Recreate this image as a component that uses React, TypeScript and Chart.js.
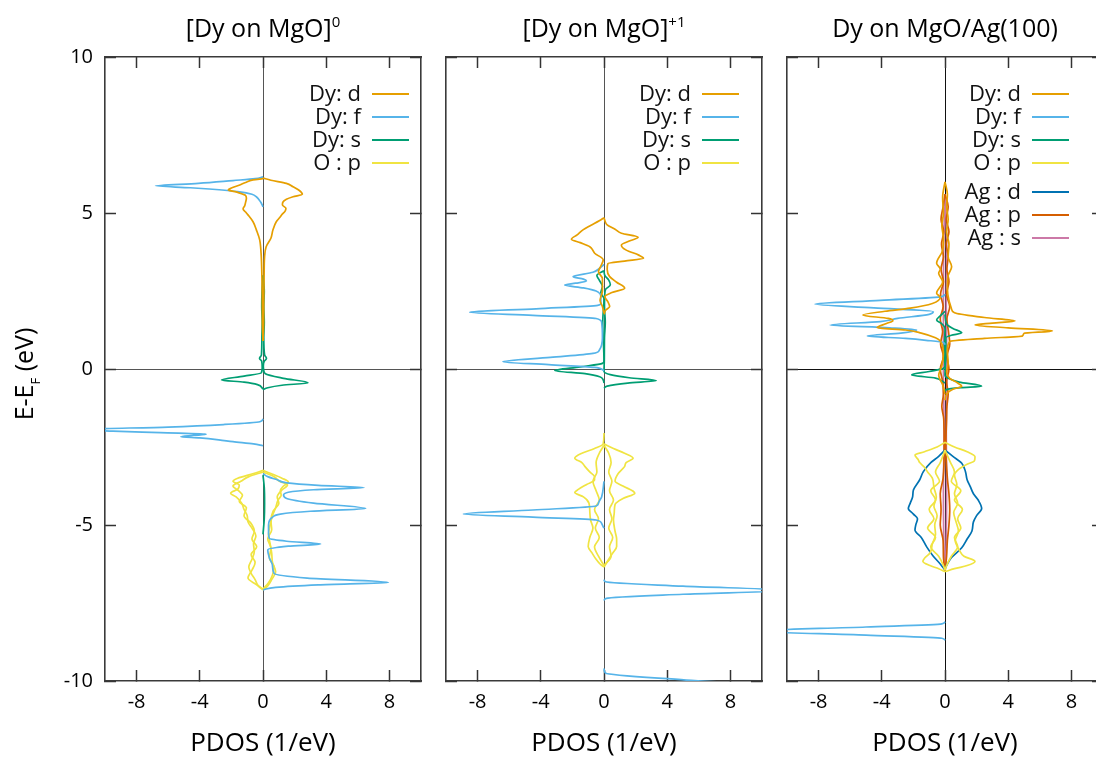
import React, { useEffect, useRef } from 'react';
import { Chart, registerables } from 'chart.js';

Chart.register(...registerables);
Chart.defaults.font.family = '"Open Sans", sans-serif';

type Pair = [number, number]; // [E - E_F (eV), PDOS (1/eV)], spin-down negative

// ---------- colours ----------
const C_DY_D = '#E69F00';
const C_DY_F = '#56B4E9';
const C_DY_S = '#009E73';
const C_O_P = '#F0E442';
const C_AG_D = '#0072B2';
const C_AG_P = '#D55E00';
const C_AG_S = '#CC79A7';

// ---------- axis ticks ----------
const X_TICKS = [-8, -4, 0, 4, 8];
const Y_TICKS = [-10, -5, 0, 5, 10];
const PDOS_MIN = -10, PDOS_MAX = 10;
const E_MIN = -10, E_MAX = 10;

// ---------- titles / labels ----------
const TITLES = ['[Dy on MgO]', '[Dy on MgO]', 'Dy on MgO/Ag(100)'];
const TITLE_SUPS = ['0', '+1', ''];
const X_LABEL = 'PDOS (1/eV)';
const LEGEND_BASE = ['Dy: d', 'Dy: f', 'Dy: s', 'O : p'];
const LEGEND_AG = ['Ag : d', 'Ag : p', 'Ag : s'];

// ================= Panel 1 : [Dy on MgO]^0 =================
const P1_DY_D_UP: Pair[] = [[6.12,0],[6.05,0.5],[5.95,1.48],[5.84,1.9],[5.72,2.3],[5.6,2.49],[5.52,1.9],[5.44,1.48],[5.34,1.25],[5.26,1.23],[5.15,1.45],[5.06,1.4],[4.95,1.2],[4.88,1.1],[4.72,0.84],[4.46,0.63],[4.19,0.5],[3.92,0.2],[3.6,0.1],[3.0,0.07],[2.2,0.05],[1.4,0.04],[0.9,0]];
const P1_DY_D_DN: Pair[] = [[6.1,0],[6.06,-0.63],[5.98,-1.1],[5.9,-1.47],[5.8,-2.0],[5.74,-2.2],[5.66,-1.6],[5.56,-1.1],[5.47,-1.05],[5.35,-1.1],[5.23,-1.16],[5.13,-1.26],[5.03,-1.1],[4.94,-0.95],[4.72,-0.63],[4.46,-0.42],[4.14,-0.21],[3.7,-0.12],[3.2,-0.08],[2.4,-0.05],[1.5,-0.04],[0.9,0]];
const P1_DY_F_DN_A: Pair[] = [[6.16,0],[6.1,-0.5],[6.04,-1.9],[5.95,-4.1],[5.87,-6.8],[5.81,-4.6],[5.77,-3.4],[5.68,-1.47],[5.6,-0.7],[5.52,-0.42],[5.35,-0.15],[5.2,0]];
const P1_DY_F_DN_B: Pair[] = [[-1.6,0],[-1.69,-0.2],[-1.78,-2.5],[-1.86,-6],[-1.94,-11.5],[-1.99,-9.5],[-2.04,-6.5],[-2.09,-3.6],[-2.13,-4.4],[-2.17,-5.2],[-2.21,-4.0],[-2.27,-2.8],[-2.33,-1.9],[-2.4,-0.6],[-2.46,0]];
const P1_DY_F_UP: Pair[] = [[-3.35,0],[-3.45,0.3],[-3.55,0.9],[-3.65,1.5],[-3.73,3.5],[-3.8,6.4],[-3.87,3.2],[-3.95,1.6],[-4.04,1.3],[-4.15,1.5],[-4.3,3.2],[-4.47,6.5],[-4.56,3.0],[-4.65,1.1],[-4.75,0.6],[-5.0,0.35],[-5.25,0.35],[-5.43,0.4],[-5.52,1.5],[-5.61,3.65],[-5.68,1.6],[-5.8,0.3],[-6.05,0.4],[-6.3,0.6],[-6.55,0.7],[-6.7,2.8],[-6.84,7.94],[-6.92,3.5],[-7.0,0.8],[-7.08,0]];
const P1_DY_S_UP: Pair[] = [[3.0,0],[2.5,0.08],[2.0,0.05],[1.5,0.08],[1.0,0.05],[0.45,0.1],[0.34,0.22],[0.25,0.08],[0.1,0.02],[-0.05,0.05],[-0.15,0.15],[-0.3,1.3],[-0.44,2.85],[-0.52,1.2],[-0.6,0.3],[-0.66,0]];
const P1_DY_S_DN: Pair[] = [[3.0,0],[2.5,-0.06],[2.0,-0.08],[1.5,-0.05],[1.0,-0.07],[0.45,-0.1],[0.34,-0.22],[0.25,-0.08],[0.05,-0.05],[-0.12,-0.1],[-0.23,-1.2],[-0.35,-2.63],[-0.42,-1.2],[-0.5,-0.35],[-0.64,0]];
const P1_DY_S_MID: Pair[] = [[-3.4,0],[-3.8,0.08],[-4.3,0.1],[-4.8,0.08],[-5.3,0]];
const P1_O_P_DN_A: Pair[] = [[-3.25,0],[-3.35,-0.6],[-3.5,-1.6],[-3.6,-1.9],[-3.72,-1.5],[-3.85,-1.6],[-3.98,-2.05],[-4.1,-1.7],[-4.3,-1.35],[-4.5,-1.2],[-4.7,-1.0],[-4.9,-0.95],[-5.1,-0.7],[-5.35,-0.45],[-5.6,-0.6],[-5.85,-0.55],[-6.1,-0.7],[-6.35,-0.9],[-6.55,-0.75],[-6.75,-0.5],[-6.95,-0.3],[-7.08,0]];
const P1_O_P_DN_B: Pair[] = [[-3.3,0],[-3.45,-0.9],[-3.6,-1.4],[-3.75,-1.9],[-3.9,-1.55],[-4.05,-1.3],[-4.25,-1.5],[-4.45,-1.05],[-4.7,-1.2],[-4.95,-0.75],[-5.2,-0.55],[-5.45,-0.7],[-5.7,-0.4],[-5.95,-0.75],[-6.2,-0.5],[-6.45,-0.7],[-6.7,-0.95],[-6.9,-0.45],[-7.05,0]];
const P1_O_P_UP_A: Pair[] = [[-3.25,0],[-3.35,0.5],[-3.5,1.2],[-3.62,1.6],[-3.75,1.3],[-3.9,1.1],[-4.05,1.15],[-4.2,0.95],[-4.45,0.8],[-4.7,0.6],[-5.0,0.45],[-5.3,0.35],[-5.6,0.45],[-5.9,0.55],[-6.2,0.6],[-6.5,0.8],[-6.75,0.55],[-6.95,0.3],[-7.08,0]];
const P1_O_P_UP_B: Pair[] = [[-3.3,0],[-3.45,0.7],[-3.6,1.05],[-3.72,1.55],[-3.88,1.2],[-4.1,0.9],[-4.3,1.0],[-4.55,0.65],[-4.85,0.5],[-5.15,0.55],[-5.45,0.3],[-5.75,0.5],[-6.05,0.4],[-6.35,0.7],[-6.6,0.6],[-6.85,0.35],[-7.05,0]];

// ================= Panel 2 : [Dy on MgO]^+1 =================
const P2_DY_D_UP: Pair[] = [[4.85,0],[4.72,0.08],[4.62,0.2],[4.48,0.7],[4.35,1.1],[4.22,2.16],[4.1,1.6],[3.97,1.1],[3.81,1.41],[3.65,2.2],[3.55,2.5],[3.46,1.3],[3.38,0.25],[3.2,0.2],[2.96,0.36],[2.78,0.8],[2.59,1.31],[2.45,0.5],[2.32,0.05],[2.15,0.25],[2.0,0.36],[1.88,0.1],[1.75,0]];
const P2_DY_D_DN: Pair[] = [[4.85,0],[4.75,-0.3],[4.6,-0.85],[4.46,-1.33],[4.3,-1.7],[4.16,-2.06],[4.05,-1.5],[3.92,-0.9],[3.8,-0.7],[3.71,-0.59],[3.5,-0.05],[3.3,-0.2],[3.12,-0.35],[2.9,-0.1],[2.5,-0.1],[2.2,-0.25],[2.0,-0.1],[1.8,0]];
const P2_DY_F_DN_A: Pair[] = [[3.35,0],[3.22,-0.3],[3.1,-0.7],[2.96,-1.96],[2.88,-1.3],[2.82,-1.11],[2.75,-1.8],[2.69,-2.49],[2.6,-1.3],[2.5,-0.5],[2.3,-0.2],[2.1,-0.2],[2.04,-0.4],[1.93,-4.3],[1.82,-8.5],[1.72,-4.5],[1.62,-0.5],[1.5,-0.15],[1.0,-0.1],[0.6,-0.3],[0.5,-0.7],[0.37,-3.4],[0.23,-6.4],[0.14,-3.5],[0.05,-0.6],[-0.02,-0.1],[-0.06,0]];
const P2_DY_F_DN_B: Pair[] = [[-3.6,0],[-4.1,-0.15],[-4.3,-0.35],[-4.39,-0.5],[-4.52,-4.5],[-4.65,-8.9],[-4.75,-4.5],[-4.84,-0.5],[-4.95,-0.15],[-5.1,0]];
const P2_DY_F_UP_A: Pair[] = [[-6.75,0],[-6.82,0.1],[-6.96,5],[-7.1,11.5],[-7.22,5],[-7.35,0.15],[-7.42,0]];
const P2_DY_F_UP_B: Pair[] = [[-9.6,0],[-9.75,0.1],[-9.97,5.2],[-10.2,12],[-10.4,5],[-10.6,0]];
const P2_DY_S_UP: Pair[] = [[3.15,0],[3.0,0.05],[2.85,0.3],[2.7,0.4],[2.55,0.1],[2.4,0.05],[2.0,0.03],[1.5,0.08],[1.0,0.03],[0.3,0.02],[-0.08,0],[-0.18,0.4],[-0.28,1.6],[-0.37,3.31],[-0.45,1.5],[-0.55,0.2],[-0.62,0]];
const P2_DY_S_DN: Pair[] = [[3.15,0],[3.0,-0.45],[2.85,-0.3],[2.65,-0.1],[2.45,-0.2],[2.25,0],[1.5,-0.08],[0.25,0],[0.18,-0.1],[0.07,-1.5],[-0.05,-3.12],[-0.15,-1.2],[-0.25,-0.27],[-0.35,-0.05],[-0.45,0]];
const P2_O_P_DN_A: Pair[] = [[-2.05,0],[-2.4,-0.05],[-2.55,-0.6],[-2.7,-1.4],[-2.86,-1.85],[-3.0,-1.4],[-3.13,-1.2],[-3.3,-0.9],[-3.45,-0.6],[-3.56,-0.6],[-3.7,-1.1],[-3.85,-1.6],[-3.96,-1.85],[-4.1,-1.3],[-4.3,-0.95],[-4.55,-0.9],[-4.84,-0.85],[-5.1,-0.7],[-5.4,-0.9],[-5.69,-1.0],[-5.9,-0.75],[-6.1,-0.5],[-6.25,-0.25],[-6.35,0]];
const P2_O_P_DN_B: Pair[] = [[-2.45,0],[-2.7,-0.3],[-3.0,-0.5],[-3.3,-0.45],[-3.6,-0.7],[-3.9,-0.5],[-4.2,-0.3],[-4.5,-0.6],[-4.8,-0.35],[-5.1,-0.55],[-5.4,-0.3],[-5.7,-0.6],[-6.0,-0.35],[-6.3,0]];
const P2_O_P_UP_A: Pair[] = [[-2.4,0],[-2.55,0.6],[-2.7,1.3],[-2.86,1.84],[-3.0,1.4],[-3.13,1.3],[-3.35,0.9],[-3.6,0.7],[-3.75,1.2],[-3.98,1.95],[-4.15,1.2],[-4.34,0.7],[-4.6,0.65],[-4.84,0.6],[-5.2,0.7],[-5.45,0.8],[-5.69,0.8],[-5.9,0.55],[-6.1,0.3],[-6.35,0]];
const P2_O_P_UP_B: Pair[] = [[-2.45,0],[-2.7,0.3],[-3.0,0.45],[-3.3,0.3],[-3.6,0.5],[-3.9,0.35],[-4.2,0.6],[-4.5,0.35],[-4.8,0.5],[-5.1,0.3],[-5.4,0.55],[-5.7,0.35],[-6.0,0.45],[-6.3,0]];

// ================= Panel 3 : Dy on MgO/Ag(100) =================
const P3_DY_D_UP: Pair[] = [[6.0,0],[5.6,0.15],[5.2,0.1],[4.8,0.2],[4.4,0.1],[4.0,0.25],[3.6,0.2],[3.28,0.42],[3.0,0.2],[2.6,0.15],[2.2,0.25],[1.95,0.4],[1.8,0.6],[1.65,2.5],[1.54,4.43],[1.47,3.0],[1.41,1.9],[1.32,4.0],[1.22,6.8],[1.14,5.0],[1.06,4.9],[0.98,2.5],[0.88,0.3],[0.6,0.15],[0.2,0.2],[-0.1,0.1],[-0.3,0.3],[-0.45,0.8],[-0.55,1.06],[-0.65,0.5],[-0.8,0.1],[-1.0,0]];
const P3_DY_D_DN: Pair[] = [[6.0,0],[5.5,-0.15],[5.0,-0.1],[4.6,-0.2],[4.2,-0.1],[3.8,-0.15],[3.39,-0.53],[3.2,-0.3],[3.07,-0.4],[2.8,-0.15],[2.43,-0.53],[2.3,-0.3],[2.1,-0.8],[1.95,-2.2],[1.85,-3.8],[1.73,-5.2],[1.62,-3.6],[1.55,-3.3],[1.46,-3.7],[1.32,-4.3],[1.25,-2.5],[1.15,-1.5],[1.0,-0.6],[0.9,-0.3],[0.5,-0.1],[0.1,-0.2],[-0.2,-0.4],[-0.35,-0.3],[-0.5,-0.15],[-0.8,0]];
const P3_DY_F_DN_A: Pair[] = [[2.4,0],[2.32,-0.2],[2.2,-4.1],[2.08,-8.23],[1.96,-4.5],[1.84,-0.74],[1.75,-1.0],[1.62,-3.0],[1.52,-4.1],[1.41,-7.28],[1.32,-3.5],[1.25,-1.8],[1.15,-2.8],[1.06,-4.92],[0.98,-2.5],[0.92,-1.2],[0.85,-0.1],[0.78,0]];
const P3_DY_F_DN_B: Pair[] = [[-8.1,0],[-8.17,-0.2],[-8.27,-5],[-8.4,-12],[-8.53,-5],[-8.63,-0.2],[-8.7,0]];
const P3_DY_S_UP: Pair[] = [[1.75,0],[1.45,0.1],[1.3,0.5],[1.16,1.06],[1.08,0.4],[1.0,0.05],[0.5,0.05],[-0.2,0],[-0.3,0.2],[-0.42,0.9],[-0.55,2.32],[-0.6,1.0],[-0.66,0.1],[-0.72,0]];
const P3_DY_S_DN: Pair[] = [[1.85,0],[1.7,-0.3],[1.57,-0.53],[1.45,-0.2],[1.3,0],[0.5,-0.05],[0.1,0],[0.02,-0.1],[-0.08,-1.0],[-0.19,-2.11],[-0.29,-0.6],[-0.38,-0.2],[-0.45,0]];
const P3_O_P_DN_A: Pair[] = [[-2.35,0],[-2.5,-0.5],[-2.65,-1.3],[-2.76,-1.9],[-2.9,-1.7],[-3.0,-1.6],[-3.15,-1.3],[-3.3,-1.1],[-3.5,-0.8],[-3.8,-0.7],[-4.1,-0.55],[-4.4,-0.7],[-4.7,-0.5],[-5.0,-0.65],[-5.3,-0.6],[-5.6,-0.8],[-5.9,-0.95],[-6.05,-1.27],[-6.17,-1.4],[-6.3,-0.95],[-6.4,-0.4],[-6.5,0]];
const P3_O_P_DN_B: Pair[] = [[-2.6,0],[-3.0,-0.3],[-3.3,-0.6],[-3.6,-0.35],[-3.9,-0.9],[-4.2,-0.6],[-4.5,-1.0],[-4.8,-0.7],[-5.1,-1.1],[-5.4,-0.6],[-5.7,-0.9],[-6.0,-0.4],[-6.3,-0.1],[-6.45,0]];
const P3_O_P_UP_A: Pair[] = [[-2.35,0],[-2.5,0.6],[-2.65,1.4],[-2.81,1.9],[-2.95,1.85],[-3.05,1.4],[-3.2,0.9],[-3.4,0.6],[-3.7,0.75],[-4.0,0.6],[-4.3,0.8],[-4.6,0.55],[-4.9,0.7],[-5.2,0.85],[-5.5,0.65],[-5.8,0.9],[-6.0,1.2],[-6.17,1.9],[-6.3,1.4],[-6.4,0.6],[-6.5,0]];
const P3_O_P_UP_B: Pair[] = [[-2.6,0],[-3.0,0.35],[-3.3,0.6],[-3.6,0.4],[-3.9,1.0],[-4.2,0.6],[-4.5,1.1],[-4.8,0.8],[-5.1,1.0],[-5.4,0.6],[-5.7,0.8],[-6.0,0.4],[-6.3,0.1],[-6.45,0]];
const P3_AG_D_DN: Pair[] = [[-2.6,0],[-2.8,-0.4],[-3.0,-0.9],[-3.29,-1.37],[-3.55,-1.6],[-3.88,-2.0],[-4.1,-2.05],[-4.3,-2.2],[-4.47,-2.32],[-4.65,-2.0],[-4.8,-1.74],[-5.0,-1.85],[-5.16,-1.9],[-5.4,-1.5],[-5.7,-1.16],[-6.0,-0.74],[-6.25,-0.3],[-6.44,0]];
const P3_AG_D_UP: Pair[] = [[-2.6,0],[-2.8,0.5],[-3.02,1.06],[-3.3,1.3],[-3.55,1.4],[-3.77,1.6],[-4.0,1.8],[-4.2,2.1],[-4.47,2.32],[-4.7,2.0],[-4.9,1.8],[-5.2,1.7],[-5.45,1.4],[-5.73,1.06],[-6.05,0.4],[-6.25,0.15],[-6.4,0]];
const P3_AG_P_UP: Pair[] = [[5.6,0],[5.2,0.2],[4.8,0.08],[4.4,0.25],[4.0,0.08],[3.6,0.2],[3.2,0.12],[2.8,0.25],[2.4,0.1],[2.0,0.3],[1.6,0.12],[1.2,0.22],[0.8,0.3],[0.4,0.12],[0.0,0.25],[-0.4,0.1],[-0.8,0.2],[-1.2,0.12],[-1.6,0.1],[-2.5,0.05],[-3.5,0.15],[-4.0,0.25],[-4.5,0.3],[-5.0,0.25],[-5.5,0.15],[-6.0,0.1],[-6.5,0]];
const P3_AG_P_DN: Pair[] = [[5.6,0],[5.2,-0.12],[4.8,-0.25],[4.4,-0.08],[4.0,-0.22],[3.6,-0.1],[3.2,-0.25],[2.8,-0.1],[2.4,-0.28],[2.0,-0.12],[1.6,-0.3],[1.2,-0.15],[0.8,-0.28],[0.4,-0.1],[0.0,-0.3],[-0.4,-0.15],[-0.8,-0.1],[-1.2,-0.2],[-1.6,-0.08],[-2.5,-0.05],[-3.5,-0.12],[-4.0,-0.3],[-4.5,-0.25],[-5.0,-0.3],[-5.5,-0.12],[-6.0,-0.1],[-6.5,0]];
const P3_AG_S_UP: Pair[] = [[5.6,0],[4.0,0.1],[2.0,0.08],[0.0,0.12],[-2.0,0.08],[-4.0,0.1],[-6.0,0.05],[-6.5,0]];
const P3_AG_S_DN: Pair[] = [[5.6,0],[4.0,-0.08],[2.0,-0.1],[0.0,-0.1],[-2.0,-0.06],[-4.0,-0.1],[-6.0,-0.05],[-6.5,0]];

// ---------- panel definitions ----------
interface Curve { pts: Pair[]; color: string }
interface PanelCfg {
  left: number; width: number; padL: number; padR: number; yWidth: number;
  showY: boolean; zTop: number; curves: Curve[];
  legend: { label: string; color: string }[]; legendRows: number[]; legendRight: number;
}

const PANEL1_CURVES: Curve[] = [
  { pts: P1_DY_D_UP, color: C_DY_D }, { pts: P1_DY_D_DN, color: C_DY_D },
  { pts: P1_DY_F_DN_A, color: C_DY_F }, { pts: P1_DY_F_DN_B, color: C_DY_F }, { pts: P1_DY_F_UP, color: C_DY_F },
  { pts: P1_DY_S_UP, color: C_DY_S }, { pts: P1_DY_S_DN, color: C_DY_S }, { pts: P1_DY_S_MID, color: C_DY_S },
  { pts: P1_O_P_DN_A, color: C_O_P }, { pts: P1_O_P_DN_B, color: C_O_P }, { pts: P1_O_P_UP_A, color: C_O_P }, { pts: P1_O_P_UP_B, color: C_O_P },
];
const PANEL2_CURVES: Curve[] = [
  { pts: P2_DY_D_UP, color: C_DY_D }, { pts: P2_DY_D_DN, color: C_DY_D },
  { pts: P2_DY_F_DN_A, color: C_DY_F }, { pts: P2_DY_F_DN_B, color: C_DY_F }, { pts: P2_DY_F_UP_A, color: C_DY_F }, { pts: P2_DY_F_UP_B, color: C_DY_F },
  { pts: P2_DY_S_UP, color: C_DY_S }, { pts: P2_DY_S_DN, color: C_DY_S },
  { pts: P2_O_P_DN_A, color: C_O_P }, { pts: P2_O_P_DN_B, color: C_O_P }, { pts: P2_O_P_UP_A, color: C_O_P }, { pts: P2_O_P_UP_B, color: C_O_P },
];
const PANEL3_CURVES: Curve[] = [
  { pts: P3_DY_D_UP, color: C_DY_D }, { pts: P3_DY_D_DN, color: C_DY_D },
  { pts: P3_DY_F_DN_A, color: C_DY_F }, { pts: P3_DY_F_DN_B, color: C_DY_F },
  { pts: P3_DY_S_UP, color: C_DY_S }, { pts: P3_DY_S_DN, color: C_DY_S },
  { pts: P3_O_P_DN_A, color: C_O_P }, { pts: P3_O_P_DN_B, color: C_O_P }, { pts: P3_O_P_UP_A, color: C_O_P }, { pts: P3_O_P_UP_B, color: C_O_P },
  { pts: P3_AG_D_DN, color: C_AG_D }, { pts: P3_AG_D_UP, color: C_AG_D },
  { pts: P3_AG_P_UP, color: C_AG_P }, { pts: P3_AG_P_DN, color: C_AG_P },
  { pts: P3_AG_S_UP, color: C_AG_S }, { pts: P3_AG_S_DN, color: C_AG_S },
];

const BASE_COLORS = [C_DY_D, C_DY_F, C_DY_S, C_O_P];
const AG_COLORS = [C_AG_D, C_AG_P, C_AG_S];
const baseLegend = LEGEND_BASE.map((l, i) => ({ label: l, color: BASE_COLORS[i] }));
const agLegend = LEGEND_AG.map((l, i) => ({ label: l, color: AG_COLORS[i] }));

const PANELS: PanelCfg[] = [
  { left: 0, width: 430, padL: 0, padR: 9, yWidth: 105, showY: true, zTop: 0, curves: PANEL1_CURVES,
    legend: baseLegend, legendRows: [37, 60, 83, 106], legendRight: 12 },
  { left: 430, width: 341, padL: 16, padR: 9, yWidth: 0, showY: false, zTop: 0, curves: PANEL2_CURVES,
    legend: baseLegend, legendRows: [37, 60, 83, 106], legendRight: 23 },
  { left: 771, width: 341, padL: 16, padR: 9, yWidth: 0, showY: false, zTop: 1, curves: PANEL3_CURVES,
    legend: [...baseLegend, ...agLegend], legendRows: [37, 60, 83, 106, 135, 158, 181], legendRight: 34 },
];
const PANEL_CENTERS = [263, 604, 945];

const H = 759;
const TOP = 57;
const X_AXIS_H = 78;
const TICK_LEN = -11;
const FRAME = '#3a3a3a';
const TICK_COLOR = '#333';

const legendPlugin = {
  id: 'pdosLegend',
  afterDraw(chart: any, _a: any, opts: any) {
    if (!opts || !opts.items) return;
    const { ctx, chartArea } = chart;
    ctx.save();
    ctx.font = '22px "Open Sans", sans-serif';
    ctx.textAlign = 'right';
    ctx.textBaseline = 'middle';
    opts.items.forEach((it: any, i: number) => {
      const y = chartArea.top + opts.rows[i];
      const x2 = chartArea.right - opts.right;
      const x1 = x2 - 37;
      ctx.strokeStyle = it.color;
      ctx.lineWidth = 2;
      ctx.beginPath();
      ctx.moveTo(x1, y);
      ctx.lineTo(x2, y);
      ctx.stroke();
      ctx.fillStyle = '#111';
      ctx.fillText(it.label, x1 - 11, y + 1);
    });
    ctx.restore();
  },
};

function Panel({ cfg }: { cfg: PanelCfg }) {
  const ref = useRef<HTMLCanvasElement>(null);
  useEffect(() => {
    const datasets = cfg.curves.map((c) => ({
      data: c.pts.map(([e, v]) => ({ x: v, y: e })),
      borderColor: c.color,
      borderWidth: 1.7,
      pointRadius: 0,
      fill: false,
      cubicInterpolationMode: 'monotone' as const,
    }));
    const zeroGrid = (ctx: any) => (ctx.tick && ctx.tick.value === 0 ? (cfg.zTop ? '#111' : '#555') : 'rgba(0,0,0,0)');
    const border = { display: true, color: FRAME, width: 1.6 };
    const chart = new Chart(ref.current as HTMLCanvasElement, {
      type: 'line',
      data: { datasets },
      options: {
        responsive: false,
        animation: false,
        indexAxis: 'y',
        events: [],
        layout: { padding: { left: cfg.padL, right: cfg.padR, top: TOP, bottom: 0 } },
        plugins: {
          legend: { display: false },
          tooltip: { enabled: false },
          pdosLegend: { items: cfg.legend, rows: cfg.legendRows, right: cfg.legendRight },
        } as any,
        scales: {
          x: {
            type: 'linear', position: 'bottom', min: PDOS_MIN, max: PDOS_MAX, z: cfg.zTop,
            afterBuildTicks: (s: any) => { s.ticks = X_TICKS.map((v) => ({ value: v })); },
            afterFit: (s: any) => { s.height = X_AXIS_H; },
            grid: { drawOnChartArea: true, color: zeroGrid, lineWidth: 1, tickLength: TICK_LEN, tickColor: TICK_COLOR, tickWidth: 1.5 },
            border,
            ticks: { color: '#000', font: { size: 20 }, padding: 20, maxRotation: 0, autoSkip: false },
            title: { display: true, text: X_LABEL, color: '#000', font: { size: 26 }, padding: { top: 0, bottom: 0 } },
          },
          x2: {
            type: 'linear', position: 'top', min: PDOS_MIN, max: PDOS_MAX,
            afterBuildTicks: (s: any) => { s.ticks = X_TICKS.map((v) => ({ value: v })); },
            afterFit: (s: any) => { s.height = 0; },
            grid: { drawOnChartArea: false, tickLength: TICK_LEN, tickColor: TICK_COLOR, tickWidth: 1.5 },
            border,
            ticks: { display: false },
          },
          y: {
            type: 'linear', position: 'left', min: E_MIN, max: E_MAX, z: cfg.zTop,
            afterBuildTicks: (s: any) => { s.ticks = Y_TICKS.map((v) => ({ value: v })); },
            afterFit: (s: any) => { s.width = cfg.yWidth; },
            grid: { drawOnChartArea: true, color: zeroGrid, lineWidth: 1, tickLength: TICK_LEN, tickColor: TICK_COLOR, tickWidth: 1.5 },
            border,
            ticks: { display: cfg.showY, color: '#000', font: { size: 20 }, padding: 23 },
          },
          y2: {
            type: 'linear', position: 'right', min: E_MIN, max: E_MAX,
            afterBuildTicks: (s: any) => { s.ticks = Y_TICKS.map((v) => ({ value: v })); },
            afterFit: (s: any) => { s.width = 0; },
            grid: { drawOnChartArea: false, tickLength: TICK_LEN, tickColor: TICK_COLOR, tickWidth: 1.5 },
            border,
            ticks: { display: false },
          },
        },
      } as any,
      plugins: [legendPlugin],
    });
    return () => chart.destroy();
  }, [cfg]);
  return (
    <canvas
      ref={ref}
      width={cfg.width}
      height={H}
      style={{ position: 'absolute', left: cfg.left, top: 0, width: cfg.width, height: H }}
    />
  );
}

export default function App() {
  const font = '"Open Sans", sans-serif';
  return (
    <div style={{ position: 'fixed', left: 0, top: 0, width: 1096, height: H, overflow: 'hidden', background: '#fff' }}>
      {PANELS.map((p, i) => <Panel key={i} cfg={p} />)}
      {TITLES.map((t, i) => (
        <div key={'t' + i} style={{ position: 'absolute', left: PANEL_CENTERS[i] - 170, width: 340, top: 12, height: 30, lineHeight: '30px', textAlign: 'center', fontFamily: font, fontSize: 25, color: '#000', whiteSpace: 'nowrap' }}>
          {t}
          {TITLE_SUPS[i] ? <span style={{ fontSize: 15, position: 'relative', top: -10 }}>{TITLE_SUPS[i]}</span> : null}
        </div>
      ))}
      <div style={{ position: 'absolute', left: 23 - 100, top: 374 - 16, width: 200, height: 32, lineHeight: '32px', textAlign: 'center', transform: 'rotate(-90deg)', fontFamily: font, fontSize: 25, color: '#000', whiteSpace: 'nowrap' }}>
        E-E<span style={{ fontSize: 13, position: 'relative', top: 7 }}>F</span> (eV)
      </div>
    </div>
  );
}
